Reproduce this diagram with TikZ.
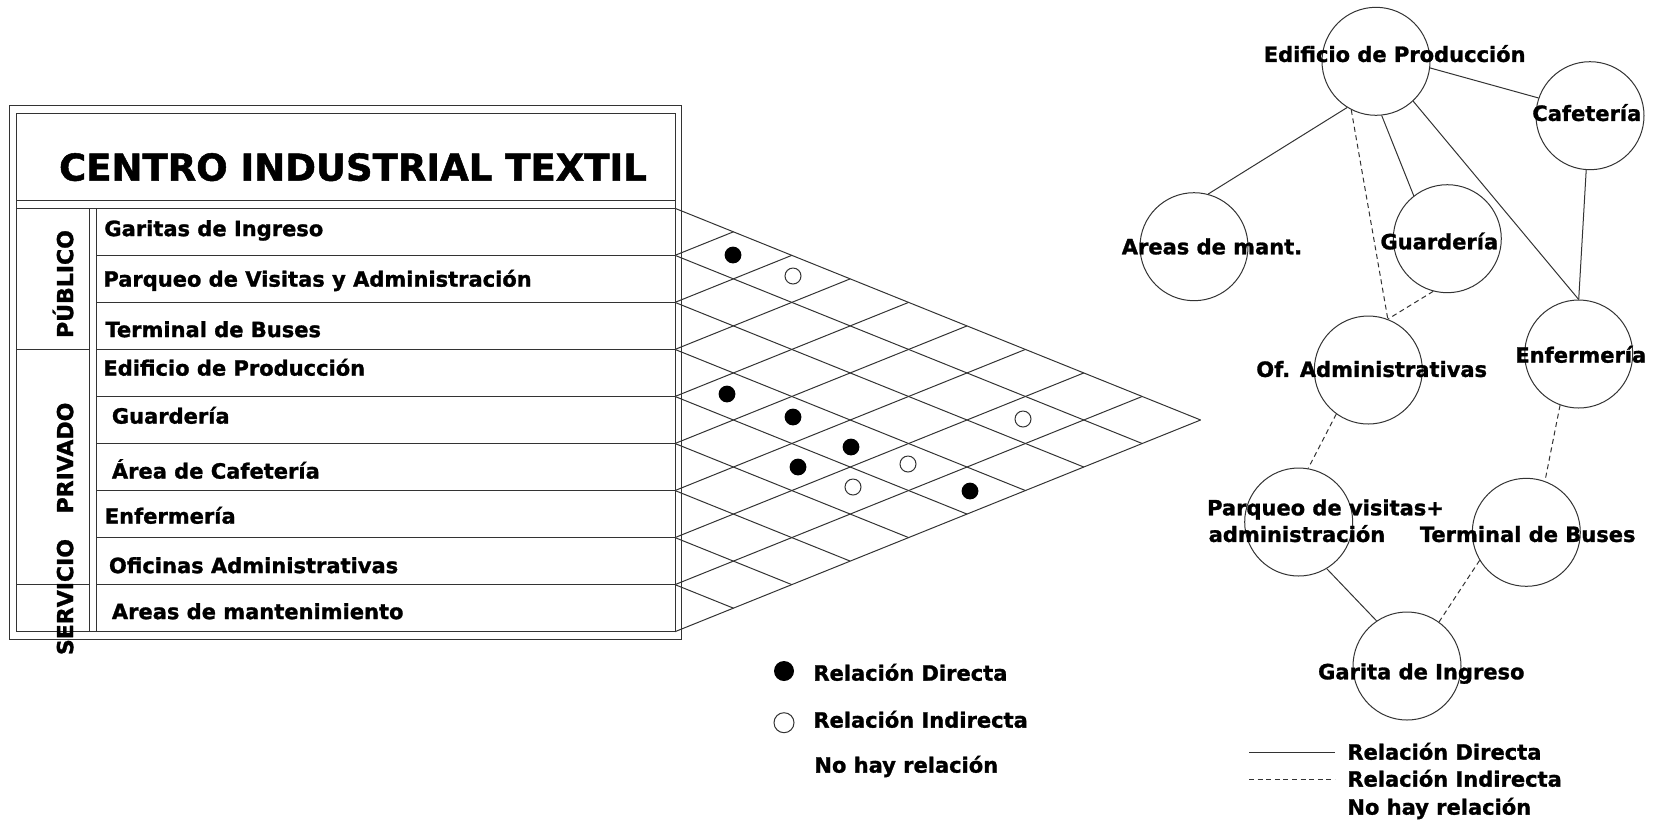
\documentclass[tikz,border=0pt]{standalone}
\usepackage{fontspec}
\setmainfont{DejaVu Sans}[BoldFeatures={FakeBold=1.3}]

\begin{document}
\begin{tikzpicture}[x=0.5pt,y=-0.5pt,
	every node/.style={font=\bfseries\fontsize{10.5}{12}\selectfont,inner sep=0pt,text height=7.6pt,text depth=0pt},
	linea/.style={line width=0.5pt,draw=black!80},
	indirecta/.style={linea,dash pattern=on 2.5pt off 1.8pt},
	sala/.style={linea,circle,minimum size=54pt},
	lleno/.style={fill=black},
	vacio/.style={linea,fill=white}]
\useasboundingbox (0,0) rectangle (1656,821);

% tabla
\draw[linea] (9.5,105.6) rectangle (681.7,639);
\draw[linea] (16.9,113) rectangle (675,631.7);
\draw[linea] (16.9,200.6) -- (675,200.6);
\draw[linea] (16.9,208.3) -- (675,208.3);
\draw[linea] (89.2,208.3) -- (89.2,631.7);
\draw[linea] (96,208.3) -- (96,631.7);
\draw[linea] (16.9,349.4) -- (89.2,349.4);
\draw[linea] (16.9,584.6) -- (89.2,584.6);
\foreach \k in {1,...,8}
	\draw[linea] (96,{208.3+47.04*\k}) -- (675,{208.3+47.04*\k});

\node (titulo) at (353,173) {\fontsize{18.5}{20}\selectfont CENTRO INDUSTRIAL TEXTIL};
\node[rotate=90,font=\bfseries\fontsize{11}{12}\selectfont] (publico) at (65.5,284) {PÚBLICO};
\node[rotate=90,font=\bfseries\fontsize{11}{12}\selectfont] (privado) at (65.5,458) {PRIVADO};
\node[rotate=90,font=\bfseries\fontsize{11}{12}\selectfont] (servicio) at (65.5,597) {SERVICIO};

\foreach \x/\y/\t [count=\i] in {104/228.5/Garitas de Ingreso,
	103/279/Parqueo de Visitas y Administración,
	105/329.5/Terminal de Buses,
	103/368/Edificio de Producción,
	111.5/416/Guardería,
	111.5/471/Área de Cafetería,
	104.4/516/Enfermería,
	108.6/565.5/Oficinas Administrativas,
	111.5/611.5/Areas de mantenimiento}
	\node[anchor=west] (fila\i) at (\x,\y) {\t};

% matriz de relaciones
\foreach \k in {0,...,8}
	\draw[linea] (675,{208.3+47.04*\k}) -- ++({(9-\k)*58.4},{(9-\k)*23.52});
\foreach \k in {1,...,9}
	\draw[linea] (675,{208.3+47.04*\k}) -- ++({\k*58.4},{-\k*23.52});

\foreach \x/\y in {733/255,727/394,793/417,851/447,798/467,970/491}
	\fill[lleno] (\x,\y) circle[radius=4.2pt];
\foreach \x/\y in {793/276,908/464,853/487,1023/419}
	\draw[vacio] (\x,\y) circle[radius=4pt];

\fill[lleno] (784,671) circle[radius=5pt];
\draw[vacio] (784,722.7) circle[radius=5pt];
\node[anchor=west] (ldir) at (813,673) {Relación Directa};
\node[anchor=west] (lind) at (813,720) {Relación Indirecta};
\node[anchor=west] (lno) at (814,765) {No hay relación};

% diagrama de burbujas
\node[sala] (edif) at (1376,61.3) {};
\node[sala] (caf) at (1590,115.7) {};
\node[sala] (mant) at (1194,246.7) {};
\node[sala] (guard) at (1447.3,238.7) {};
\node[sala] (ofic) at (1368.3,370) {};
\node[sala] (enf) at (1578.7,354) {};
\node[sala] (parq) at (1298.7,522) {};
\node[sala] (term) at (1526.3,532.3) {};
\node[sala] (gar) at (1407,666) {};

\draw[linea] (edif.-7) -- (caf.161);
\draw[linea] (edif.238.6) -- (mant.75);
\draw[indirecta] (edif.243) -- (ofic.69);
\draw[linea] (edif.-84) -- (guard.128);
\draw[linea] (edif.-47) -- (enf.90);
\draw[linea] (caf.-94) -- (enf.90);
\draw[indirecta] (guard.-105) -- (ofic.69);
\draw[indirecta] (ofic.-126) -- (parq.80);
\draw[indirecta] (enf.-110) -- (term.70);
\draw[linea] (parq.-59) -- (gar.124);
\draw[indirecta] (term.211) -- (gar.54);

\node (edif-t) at (1394.7,54.3) {Edificio de Producción};
\node (caf-t) at (1586.8,113.3) {Cafetería};
\node (mant-t) at (1212,246.7) {Areas de mant.};
\node (guard-t) at (1439.3,241.7) {Guardería};
\node (ofic-t) at (1371.7,369.3) {Of. Administrativas};
\node (enf-t) at (1580.8,355) {Enfermería};
\node[anchor=west] (parq-t) at (1206.7,507.7) {Parqueo de visitas+};
\node[anchor=west] (parq-t2) at (1208.3,534.3) {administración};
\node (term-t) at (1527.7,534.3) {Terminal de Buses};
\node (gar-t) at (1421.3,671.7) {Garita de Ingreso};

\coordinate (rd1) at (1249,752);
\coordinate (rd2) at (1335,752);
\coordinate (ri1) at (1249,779);
\coordinate (ri2) at (1335,779);
\draw[linea] (rd1) -- (rd2);
\draw[indirecta] (ri1) -- (ri2);
\node[anchor=west] (rdir) at (1347,752) {Relación Directa};
\node[anchor=west] (rind) at (1347,779) {Relación Indirecta};
\node[anchor=west] (rno) at (1347,807) {No hay relación};

\end{tikzpicture}
\end{document}
